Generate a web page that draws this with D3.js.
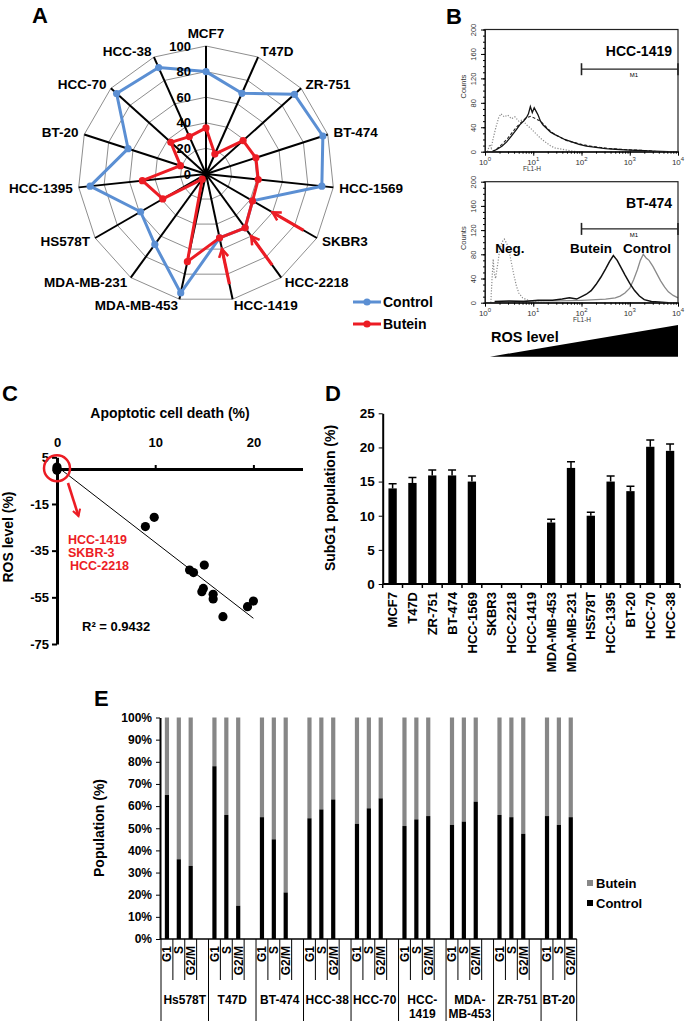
<!DOCTYPE html>
<html>
<head>
<meta charset="utf-8">
<script src="https://cdn.jsdelivr.net/npm/d3@7"></script>
<style>
  body { margin: 0; background: #fff; }
  svg { display: block; font-family: "Liberation Sans", Arial, sans-serif; font-weight: bold; }
</style>
</head>
<body>
<svg id="fig" width="685" height="1021"></svg>
<script>
// ---------- data ----------
// A: radar (ROS level, % of max)
var cellLines = ["MCF7", "T47D", "ZR-751", "BT-474", "HCC-1569", "SKBR3", "HCC-2218", "HCC-1419",
  "MDA-MB-453", "MDA-MB-231", "HS578T", "HCC-1395", "BT-20", "HCC-70", "HCC-38"];
var radarControl = [80, 69, 93, 96, 91, 42, 52, 51, 95, 68, 59, 91, 64, 94, 91];
var radarButein = [36, 17, 39, 41, 41, 42, 52, 51, 70, 5, 39, 50, 21, 37, 32];
var radarTicks = [0, 20, 40, 60, 80, 100];
var arrowLines = ["SKBR3", "HCC-2218", "HCC-1419"];

// B: flow histograms (log10 FL1-H, counts)
var hccNegLog = [0.05, 0.1, 0.13, 0.17, 0.22, 0.28, 0.33, 0.4, 0.47, 0.55, 0.62, 0.7, 0.78, 0.86, 0.95, 1.05, 1.15, 1.25, 1.35, 1.45, 1.6, 1.75, 1.9];
var hccNegCount = [0, 12, 6, 22, 38, 55, 62, 57, 60, 54, 57, 50, 52, 44, 38, 30, 22, 16, 10, 6, 4, 2, 0];
var hccCtrlLog = [0.15, 0.25, 0.35, 0.45, 0.55, 0.65, 0.72, 0.8, 0.86, 0.9, 0.94, 0.98, 1.02, 1.06, 1.1, 1.15, 1.2, 1.28, 1.36, 1.45, 1.55, 1.65, 1.8, 1.95, 2.1, 2.3, 2.5, 2.7, 2.9, 3.2, 3.5, 3.8];
var hccCtrlCount = [0, 4, 9, 16, 26, 36, 44, 50, 56, 62, 74, 64, 72, 66, 60, 50, 44, 38, 32, 28, 24, 20, 16, 12, 9, 7, 5, 4, 3, 2, 1, 0];
var hccButLog = [0.15, 0.25, 0.35, 0.45, 0.55, 0.65, 0.75, 0.85, 0.95, 1.05, 1.15, 1.25, 1.35, 1.45, 1.55, 1.7, 1.85, 2.0, 2.2, 2.4, 2.6, 2.8, 3.0, 3.3, 3.6];
var hccButCount = [0, 5, 12, 20, 30, 40, 48, 55, 58, 54, 50, 42, 34, 28, 24, 18, 15, 12, 9, 7, 5, 4, 3, 2, 0];
var btNegLog = [0.12, 0.15, 0.17, 0.19, 0.22, 0.26, 0.3, 0.35, 0.4, 0.45, 0.5, 0.55, 0.6, 0.65, 0.7, 0.78, 0.86, 0.95, 1.1, 1.3];
var btNegCount = [0, 45, 72, 50, 40, 62, 85, 100, 105, 98, 85, 65, 45, 28, 16, 8, 5, 3, 1, 0];
var btButLog = [0.2, 0.5, 0.8, 1.1, 1.4, 1.6, 1.75, 1.9, 2.0, 2.1, 2.2, 2.3, 2.4, 2.5, 2.58, 2.66, 2.74, 2.82, 2.9, 3.0, 3.1, 3.2, 3.3, 3.45, 3.6, 3.8];
var btButCount = [2, 3, 2, 4, 4, 6, 8, 6, 10, 14, 20, 30, 42, 56, 68, 78, 70, 58, 46, 32, 20, 11, 5, 2, 1, 0];
var btCtrlLog = [0.2, 0.6, 1.0, 1.5, 2.0, 2.3, 2.5, 2.7, 2.8, 2.9, 3.0, 3.08, 3.16, 3.22, 3.28, 3.34, 3.4, 3.48, 3.56, 3.64, 3.72, 3.8, 3.9, 4.0];
var btCtrlCount = [1, 2, 3, 3, 4, 5, 6, 8, 11, 16, 24, 38, 55, 70, 80, 74, 70, 60, 48, 36, 26, 18, 12, 8];
var countTicks = [0, 40, 80, 120, 160, 200];
var decadeTicks = [1, 10, 100, 1000, 10000];

// C: scatter
var deathPct = [0, 0, 0, 9.0, 9.9, 13.5, 13.9, 15.0, 14.75, 14.9, 15.9, 15.9, 16.9, 19.4, 20.0];
var rosPct = [0.8, 0, -0.6, -24.7, -20.7, -43.3, -44.4, -41.2, -52.6, -51.2, -53.7, -55.7, -63.3, -59.0, -56.6];
var deathTicks = [0, 10, 20];
var rosTicks = [5, -15, -35, -55, -75];
var noChangeLines = ["HCC-1419", "SKBR-3", "HCC-2218"];

// D: subG1 bars
var subG1 = [14, 14.8, 15.9, 15.9, 15, 0, 0, 0, 9, 17, 10, 15, 13.6, 20.1, 19.5];
var subG1Err = [0.7, 0.8, 0.8, 0.8, 0.8, 0, 0, 0, 0.5, 0.9, 0.5, 0.8, 0.7, 1.0, 1.0];
var subG1Ticks = [0, 5, 10, 15, 20, 25];

// E: cell cycle, 100% stacked
var cycleGroups = ["Hs578T", "T47D", "BT-474", "HCC-38", "HCC-70", "HCC-1419", "MDA-MB-453", "ZR-751", "BT-20"];
var cycleLabels = [["Hs578T"], ["T47D"], ["BT-474"], ["HCC-38"], ["HCC-70"], ["HCC-", "1419"], ["MDA-", "MB-453"], ["ZR-751"], ["BT-20"]];
var phases = ["G1", "S", "G2/M"];
var controlG1 = [65, 78, 55, 54.5, 52, 51, 51.5, 56, 55.5];
var controlS = [36, 56, 45, 58.5, 59, 54, 53, 55, 51.5];
var controlG2M = [33, 15, 21, 63, 63.5, 55.5, 62, 47.5, 55];
var pctTicks = [0, 10, 20, 30, 40, 50, 60, 70, 80, 90, 100];

var blue = "#5b8fd3", red = "#ec1c24";
var svg = d3.select("#fig");
var defs = svg.append("defs");
defs.append("marker").attr("id", "chev").attr("viewBox", "0 0 10 10")
  .attr("refX", 8).attr("refY", 5).attr("markerWidth", 3.6).attr("markerHeight", 3.6)
  .attr("orient", "auto")
  .append("path").attr("d", "M1,1 L8,5 L1,9").attr("fill", "none")
  .attr("stroke", red).attr("stroke-width", 2.2);

function panelLetter(t, x, y) {
  svg.append("text").attr("x", x).attr("y", y).attr("font-size", 22).text(t);
}

// ---------- A: radar ----------
var A = svg.append("g");
var acx = 206, acy = 174;
var rA = d3.scaleLinear().domain([0, 100]).range([0, 128]);
var angA = d3.scaleLinear().domain([0, cellLines.length]).range([0, 2 * Math.PI]);
function polar(i, v) {
  var a = angA(i);
  return [acx + rA(v) * Math.sin(a), acy - rA(v) * Math.cos(a)];
}

radarTicks.slice(1).forEach(function (t) {
  A.append("polygon")
    .attr("points", cellLines.map(function (d, i) { return polar(i, t).join(","); }).join(" "))
    .attr("fill", "none").attr("stroke", "#8e8e8e").attr("stroke-width", 1);
});
A.selectAll(".spoke").data(cellLines).enter().append("line")
  .attr("x1", acx).attr("y1", acy)
  .attr("x2", function (d, i) { return polar(i, 100)[0]; })
  .attr("y2", function (d, i) { return polar(i, 100)[1]; })
  .attr("stroke", "#000").attr("stroke-width", 2);

function radarSeries(vals, color) {
  var pts = vals.map(function (v, i) { return polar(i, v); });
  A.append("path").attr("d", d3.line()(pts) + "Z")
    .attr("fill", "none").attr("stroke", color).attr("stroke-width", 3).attr("stroke-linejoin", "round");
  A.selectAll(null).data(pts).enter().append("circle")
    .attr("cx", function (d) { return d[0]; }).attr("cy", function (d) { return d[1]; })
    .attr("r", 3.6).attr("fill", color);
}
radarSeries(radarControl, blue);
radarSeries(radarButein, red);

arrowLines.forEach(function (name) {
  var i = cellLines.indexOf(name);
  var p0 = polar(i, 88), p1 = polar(i, 60);
  A.append("line").attr("x1", p0[0]).attr("y1", p0[1]).attr("x2", p1[0]).attr("y2", p1[1])
    .attr("stroke", red).attr("stroke-width", 3.2).attr("marker-end", "url(#chev)");
});

A.selectAll(".rtick").data(radarTicks).enter().append("text")
  .attr("x", acx - 15).attr("y", function (d) { return acy - rA(d); })
  .attr("dy", "0.36em").attr("text-anchor", "end").attr("font-size", 13).text(function (d) { return d; });

A.selectAll(".rlab").data(cellLines).enter().append("text")
  .attr("font-size", 13.5)
  .each(function (d, i) {
    var a = angA(i), s = Math.sin(a), c = Math.cos(a);
    var p = polar(i, 100);
    var x = p[0] + s * 6, y = p[1] - c * 6;
    if (Math.abs(s) < 0.1) y -= 7;
    d3.select(this).attr("x", x).attr("y", y).attr("dy", "0.36em")
      .attr("text-anchor", s > 0.1 ? "start" : (s < -0.1 ? "end" : "middle")).text(d);
  });

[["Control", blue, 302], ["Butein", red, 324]].forEach(function (l) {
  A.append("line").attr("x1", 353).attr("x2", 381).attr("y1", l[2]).attr("y2", l[2])
    .attr("stroke", l[1]).attr("stroke-width", 3);
  A.append("circle").attr("cx", 367).attr("cy", l[2]).attr("r", 3.6).attr("fill", l[1]);
  A.append("text").attr("x", 383).attr("y", l[2]).attr("dy", "0.36em").attr("font-size", 14).text(l[0]);
});
panelLetter("A", 32, 23);

// ---------- B: flow histograms ----------
var bx = d3.scaleLog().domain([1, 1e4]).range([485, 678]);
function flowPanel(top, bottom, title, curves, fl1x) {
  var g = svg.append("g");
  var y = d3.scaleLinear().domain([0, 200]).range([bottom, top]);
  curves.forEach(function (c) {
    g.append("path").datum(d3.zip(c.log, c.count))
      .attr("d", d3.line().x(function (d) { return bx(Math.pow(10, d[0])); }).y(function (d) { return y(d[1]); }))
      .attr("fill", "none").attr("stroke", c.color).attr("stroke-width", c.width)
      .attr("stroke-dasharray", c.dash);
  });
  g.append("rect").attr("x", 485).attr("y", top).attr("width", 193).attr("height", bottom - top)
    .attr("fill", "none").attr("stroke", "#222").attr("stroke-width", 1.2);

  var yAx = g.append("g").attr("transform", "translate(485,0)")
    .call(d3.axisLeft(y).tickValues(countTicks).tickSize(4).tickSizeOuter(0));
  g.append("g").attr("transform", "translate(485,0)")
    .call(d3.axisLeft(y).tickValues(d3.range(0, 201, 10)).tickSize(2).tickSizeOuter(0).tickFormat(""));
  yAx.selectAll("text").attr("x", 0).attr("dy", null).attr("text-anchor", "middle")
    .attr("transform", "translate(-9,0) rotate(-90)")
    .attr("font-size", 7.5).attr("font-weight", "normal").attr("fill", "#333");

  g.append("g").attr("transform", "translate(0," + bottom + ")")
    .call(d3.axisBottom(bx).tickValues(decadeTicks).tickSize(4).tickSizeOuter(0).tickFormat(""));
  g.append("g").attr("transform", "translate(0," + bottom + ")")
    .call(d3.axisBottom(bx).tickValues(bx.ticks()).tickSize(2).tickSizeOuter(0).tickFormat(""));
  g.selectAll(".domain").attr("stroke", "#222");

  decadeTicks.forEach(function (v, i) {
    var t = g.append("text").attr("x", bx(v)).attr("y", bottom + 13).attr("text-anchor", "middle")
      .attr("font-size", 8).attr("font-weight", "normal").attr("fill", "#333");
    t.append("tspan").text("10");
    t.append("tspan").attr("dy", -4).attr("font-size", 6).text(i);
  });
  g.append("text").attr("x", fl1x).attr("y", bottom + 19).attr("text-anchor", "middle")
    .attr("font-size", 6.5).attr("font-weight", "normal").attr("fill", "#333").text("FL1-H");
  g.append("text").attr("transform", "translate(466," + ((top + bottom) / 2 - 4) + ") rotate(-90)")
    .attr("text-anchor", "middle").attr("font-size", 7.5).attr("font-weight", "normal")
    .attr("fill", "#333").text("Counts");

  // M1 marker bar
  var my = y(title === "HCC-1419" ? 135 : 122);
  g.append("line").attr("x1", bx(100)).attr("x2", bx(1e4)).attr("y1", my).attr("y2", my)
    .attr("stroke", "#222").attr("stroke-width", 1.3);
  [100, 1e4].forEach(function (v) {
    g.append("line").attr("x1", bx(v)).attr("x2", bx(v)).attr("y1", my - 6).attr("y2", my + 6)
      .attr("stroke", "#222").attr("stroke-width", 1.6);
  });
  g.append("text").attr("x", 634).attr("y", my + 8).attr("text-anchor", "middle")
    .attr("font-size", 6).attr("font-weight", "normal").text("M1");
  g.append("text").attr("x", 672).attr("y", y(165)).attr("dy", "0.36em").attr("text-anchor", "end")
    .attr("font-size", 14).text(title);
  return y;
}

flowPanel(29.5, 151.7, "HCC-1419", [
  { log: hccNegLog, count: hccNegCount, color: "#8a8a8a", width: 1.2, dash: "1.2,1.6" },
  { log: hccButLog, count: hccButCount, color: "#222", width: 1.1, dash: "3,2" },
  { log: hccCtrlLog, count: hccCtrlCount, color: "#111", width: 1.3, dash: null }
], 532);
flowPanel(181.7, 302.7, "BT-474", [
  { log: btNegLog, count: btNegCount, color: "#8a8a8a", width: 1.2, dash: "1.2,1.6" },
  { log: btCtrlLog, count: btCtrlCount, color: "#8a8a8a", width: 1.3, dash: null },
  { log: btButLog, count: btButCount, color: "#111", width: 1.5, dash: null }
], 582);
[["Neg.", 510], ["Butein", 591], ["Control", 647]].forEach(function (l) {
  svg.append("text").attr("x", l[1]).attr("y", 248).attr("dy", "0.36em").attr("text-anchor", "middle")
    .attr("font-size", 13.5).text(l[0]);
});
svg.append("polygon").attr("points", "490,356.7 678,325 678,356.7").attr("fill", "#000");
svg.append("text").attr("x", 491).attr("y", 342).attr("font-size", 14.5).text("ROS level");
panelLetter("B", 446, 24);

// ---------- C: scatter ----------
var C = svg.append("g");
var cX = d3.scaleLinear().domain([0, 25]).range([57, 302.5]);
var cY = d3.scaleLinear().domain([5, -75]).range([457.3, 644]);

var mx = d3.mean(deathPct), myy = d3.mean(rosPct);
var slope = d3.sum(deathPct, function (d, i) { return (d - mx) * (rosPct[i] - myy); }) /
  d3.sum(deathPct, function (d) { return (d - mx) * (d - mx); });
var icpt = myy - slope * mx;
C.append("line").attr("x1", cX(0.5)).attr("y1", cY(icpt + slope * 0.5))
  .attr("x2", cX(20)).attr("y2", cY(icpt + slope * 20))
  .attr("stroke", "#000").attr("stroke-width", 1);

var cyAx = C.append("g").attr("transform", "translate(" + cX(0) + ",0)")
  .call(d3.axisLeft(cY).tickValues(rosTicks).tickSize(5).tickSizeOuter(0).tickPadding(3)
    .tickFormat(function (d) { return d; }));
var cxAx = C.append("g").attr("transform", "translate(0," + cY(0) + ")")
  .call(d3.axisTop(cX).tickValues(deathTicks).tickSize(4).tickSizeOuter(0).tickPadding(18));
[cyAx, cxAx].forEach(function (ax) {
  ax.select(".domain").attr("stroke-width", 3);
  ax.selectAll(".tick line").attr("stroke-width", 2);
  ax.selectAll("text").attr("font-size", 13).attr("font-family", null).attr("font-weight", "bold");
});

C.selectAll(".dot").data(deathPct).enter().append("circle")
  .attr("cx", function (d) { return cX(d); })
  .attr("cy", function (d, i) { return cY(rosPct[i]); })
  .attr("r", 4.6).attr("fill", "#000");

C.append("circle").attr("cx", cX(0)).attr("cy", cY(0.3)).attr("r", 13)
  .attr("fill", "none").attr("stroke", red).attr("stroke-width", 2.5);
C.append("line").attr("x1", 68).attr("y1", 483).attr("x2", 78.5).attr("y2", 516)
  .attr("stroke", red).attr("stroke-width", 2.6).attr("marker-end", "url(#chev)");
C.selectAll(".nc").data(noChangeLines).enter().append("text")
  .attr("x", function (d, i) { return i === 2 ? 70 : 68; })
  .attr("y", function (d, i) { return 539 + i * 13; }).attr("dy", "0.36em")
  .attr("font-size", 12.5).attr("fill", red).text(function (d) { return d; });

C.append("text").attr("x", 82).attr("y", 631).attr("font-size", 13).text("R² = 0.9432");
C.append("text").attr("x", 170).attr("y", 418).attr("text-anchor", "middle").attr("font-size", 14)
  .text("Apoptotic cell death (%)");
C.append("text").attr("transform", "translate(13,537) rotate(-90)").attr("text-anchor", "middle")
  .attr("font-size", 14).text("ROS level (%)");
panelLetter("C", 2, 401);

// ---------- D: subG1 ----------
var D = svg.append("g");
var dX = d3.scaleBand().domain(cellLines).range([382.7, 680]).paddingInner(0.58).paddingOuter(0.29);
var dY = d3.scaleLinear().domain([0, 25]).range([584, 413.3]);

D.selectAll(".err").data(cellLines.filter(function (d, i) { return subG1[i] > 0; })).enter()
  .append("path")
  .attr("d", function (d) {
    var i = cellLines.indexOf(d), xc = dX(d) + dX.bandwidth() / 2, yt = dY(subG1[i] + subG1Err[i]);
    return "M" + xc + "," + dY(subG1[i]) + "V" + yt + "M" + (xc - 4) + "," + yt + "H" + (xc + 4);
  })
  .attr("stroke", "#000").attr("stroke-width", 1.5).attr("fill", "none");
D.selectAll(".bar").data(cellLines).enter().append("rect")
  .attr("x", function (d) { return dX(d); })
  .attr("width", dX.bandwidth())
  .attr("y", function (d, i) { return dY(subG1[i]); })
  .attr("height", function (d, i) { return dY(0) - dY(subG1[i]); })
  .attr("fill", "#000");

var dyAx = D.append("g").attr("transform", "translate(382.7,0)")
  .call(d3.axisLeft(dY).tickValues(subG1Ticks).tickSize(4).tickSizeOuter(0).tickPadding(4));
dyAx.select(".domain").attr("stroke-width", 2);
dyAx.selectAll("text").attr("font-size", 13.5).attr("font-family", null).attr("font-weight", "bold");

var step = dX.step();
D.append("line").attr("x1", 382.7).attr("x2", 680).attr("y1", dY(0)).attr("y2", dY(0))
  .attr("stroke", "#000").attr("stroke-width", 2);
D.selectAll(".xt").data(d3.range(cellLines.length + 1)).enter().append("line")
  .attr("x1", function (d) { return 382.7 + d * step; }).attr("x2", function (d) { return 382.7 + d * step; })
  .attr("y1", dY(0)).attr("y2", dY(0) + 4).attr("stroke", "#000").attr("stroke-width", 1.5);
D.selectAll(".xl").data(cellLines).enter().append("text")
  .attr("transform", function (d) { return "translate(" + (dX(d) + dX.bandwidth() / 2) + ",592) rotate(-90)"; })
  .attr("text-anchor", "end").attr("dy", "0.36em").attr("font-size", 13).text(function (d) { return d; });
D.append("text").attr("transform", "translate(335,498) rotate(-90)").attr("text-anchor", "middle")
  .attr("font-size", 14).text("SubG1 population (%)");
panelLetter("D", 325, 401);

// ---------- E: cell cycle ----------
var E = svg.append("g");
var slots = [];
cycleGroups.forEach(function (g, gi) {
  phases.forEach(function (p) { slots.push(g + "|" + p); });
  if (gi < cycleGroups.length - 1) slots.push(g + "|gap");
});
var eX = d3.scaleBand().domain(slots).range([161, 576.7]);
var eY = d3.scaleLinear().domain([0, 100]).range([939, 717.5]);
var eStep = eX.step(), barW = 4.2;
var ctrlByPhase = [controlG1, controlS, controlG2M];

cycleGroups.forEach(function (g, gi) {
  phases.forEach(function (p, pi) {
    var xc = eX(g + "|" + p) + eStep / 2, v = ctrlByPhase[pi][gi];
    E.append("rect").attr("x", xc - barW / 2).attr("width", barW)
      .attr("y", eY(100)).attr("height", eY(v) - eY(100)).attr("fill", "#878787");
    E.append("rect").attr("x", xc - barW / 2).attr("width", barW)
      .attr("y", eY(v)).attr("height", eY(0) - eY(v)).attr("fill", "#000");
    E.append("text").attr("transform", "translate(" + xc + ",946) rotate(-90)")
      .attr("text-anchor", "end").attr("dy", "0.36em").attr("font-size", 12).text(p);
    E.append("line").attr("x1", xc + eStep / 2).attr("x2", xc + eStep / 2)
      .attr("y1", eY(0)).attr("y2", pi === 2 && gi === cycleGroups.length - 1 ? 1021 : 980)
      .attr("stroke", "#000").attr("stroke-width", 1);
  });
  var gx = eX(g + "|G1");
  E.append("line").attr("x1", gx).attr("x2", gx).attr("y1", eY(0)).attr("y2", 1021)
    .attr("stroke", "#000").attr("stroke-width", 1);
  var gc = gi < cycleGroups.length - 1 ? gx + 2 * eStep : gx + 1.5 * eStep;
  cycleLabels[gi].forEach(function (t, li) {
    E.append("text").attr("x", gc).attr("y", 1000 + li * 13.5).attr("dy", "0.36em")
      .attr("text-anchor", "middle").attr("font-size", 12).text(t);
  });
});

var eyAx = E.append("g").attr("transform", "translate(160,0)")
  .call(d3.axisLeft(eY).tickValues(pctTicks).tickSize(4).tickSizeOuter(0).tickPadding(4)
    .tickFormat(function (d) { return d + "%"; }));
eyAx.select(".domain").attr("stroke-width", 2);
eyAx.selectAll("text").attr("font-size", 12).attr("font-family", null).attr("font-weight", "bold");
E.append("line").attr("x1", 160).attr("x2", 576.7).attr("y1", eY(0)).attr("y2", eY(0))
  .attr("stroke", "#000").attr("stroke-width", 1.5);

[["Butein", "#878787", 883], ["Control", "#000", 903]].forEach(function (l) {
  E.append("rect").attr("x", 587).attr("y", l[2] - 3).attr("width", 6).attr("height", 6).attr("fill", l[1]);
  E.append("text").attr("x", 596).attr("y", l[2]).attr("dy", "0.36em").attr("font-size", 13).text(l[0]);
});
E.append("text").attr("transform", "translate(104,828) rotate(-90)").attr("text-anchor", "middle")
  .attr("font-size", 14).text("Population (%)");
panelLetter("E", 94, 706);
</script>
</body>
</html>
